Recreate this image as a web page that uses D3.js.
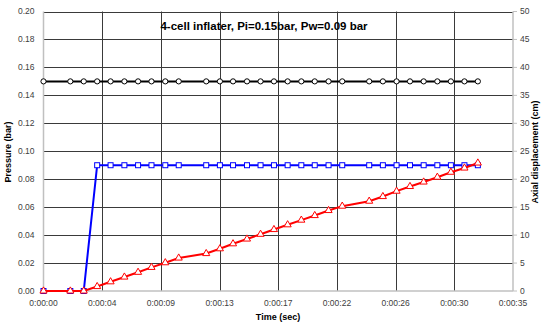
<!DOCTYPE html>
<html>
<head>
<meta charset="utf-8">
<script src="https://cdn.jsdelivr.net/npm/d3@7"></script>
<style>
  body { margin: 0; background: #fff; }
  text { font-family: "Liberation Sans", Arial, sans-serif; }
</style>
</head>
<body>
<div id="chart"></div>
<script>
// time (sec) of each sample
var times = [0, 2, 3, 4, 5, 6.03, 7.05, 8.05, 9.08, 10.08,
  12.13, 13.15, 14.13, 15.17, 16.18, 17.18, 18.2, 19.22, 20.22, 21.25, 22.27,
  24.28, 25.3, 26.32, 27.32, 28.34, 29.36, 30.37, 31.38, 32.38];
// Pi (bar)
var inflaterPressure = [0.15, 0.15, 0.15, 0.15, 0.15, 0.15, 0.15, 0.15, 0.15, 0.15,
  0.15, 0.15, 0.15, 0.15, 0.15, 0.15, 0.15, 0.15, 0.15, 0.15, 0.15,
  0.15, 0.15, 0.15, 0.15, 0.15, 0.15, 0.15, 0.15, 0.15];
// Pw (bar)
var wallPressure = [0, 0, 0, 0.09, 0.09, 0.09, 0.09, 0.09, 0.09, 0.09,
  0.09, 0.09, 0.09, 0.09, 0.09, 0.09, 0.09, 0.09, 0.09, 0.09, 0.09,
  0.09, 0.09, 0.09, 0.09, 0.09, 0.09, 0.09, 0.09, 0.09];
// axial displacement (cm)
var displacement = [0, 0, 0, 0.8, 1.65, 2.5, 3.35, 4.23, 5.06, 5.9,
  6.7, 7.56, 8.45, 9.3, 10.15, 11.0, 11.85, 12.68, 13.5, 14.4, 15.18,
  16.07, 16.9, 17.86, 18.7, 19.5, 20.36, 21.25, 22.0, 22.9];

var xTicks = [0, 4.375, 8.75, 13.125, 17.5, 21.875, 26.25, 30.625, 35];
var xTickLabels = ['0:00:00', '0:00:04', '0:00:09', '0:00:13', '0:00:17', '0:00:22', '0:00:26', '0:00:30', '0:00:35'];
var leftTicks = [0, 0.02, 0.04, 0.06, 0.08, 0.10, 0.12, 0.14, 0.16, 0.18, 0.20];
var rightTicks = [0, 5, 10, 15, 20, 25, 30, 35, 40, 45, 50];

var width = 543, height = 323;
var margin = {top: 11.5, right: 30, bottom: 32, left: 43.5};

var svg = d3.select('#chart').append('svg')
  .attr('width', width)
  .attr('height', height);

var x = d3.scaleLinear().domain([0, 35]).range([margin.left, width - margin.right]);
var y = d3.scaleLinear().domain([0, 0.2]).range([height - margin.bottom, margin.top]);
var y2 = d3.scaleLinear().domain([0, 50]).range([height - margin.bottom, margin.top]);

// grid
svg.append('g').selectAll('line')
  .data(leftTicks.slice(1))
  .enter().append('line')
  .attr('x1', x(0)).attr('x2', x(35))
  .attr('y1', function(d) { return Math.round(y(d)) + 0.5; })
  .attr('y2', function(d) { return Math.round(y(d)) + 0.5; })
  .style('stroke', '#3a3a3a').style('stroke-width', 1);

svg.append('g').selectAll('line')
  .data(xTicks.slice(1, -1))
  .enter().append('line')
  .attr('y1', y(0)).attr('y2', y(0.2))
  .attr('x1', function(d) { return Math.round(x(d)) + 0.5; })
  .attr('x2', function(d) { return Math.round(x(d)) + 0.5; })
  .style('stroke', '#3a3a3a').style('stroke-width', 1);

// axes lines
svg.append('line')
  .attr('x1', x(0)).attr('x2', x(0)).attr('y1', y(0)).attr('y2', y(0.2))
  .style('stroke', '#c0c0c0').style('stroke-width', 1.5);
svg.append('line')
  .attr('x1', x(35)).attr('x2', x(35)).attr('y1', y(0)).attr('y2', y(0.2))
  .style('stroke', '#c0c0c0').style('stroke-width', 1.5);
svg.append('line')
  .attr('x1', x(0)).attr('x2', x(35)).attr('y1', y(0)).attr('y2', y(0))
  .style('stroke', '#c0c0c0').style('stroke-width', 1.5);

// right ticks
svg.append('g').selectAll('line')
  .data(rightTicks)
  .enter().append('line')
  .attr('x1', x(35)).attr('x2', x(35) + 4)
  .attr('y1', function(d) { return y2(d); })
  .attr('y2', function(d) { return y2(d); })
  .style('stroke', '#c0c0c0').style('stroke-width', 1);

// tick labels
var tickFont = 8.5, tickColor = '#404040';
svg.append('g').selectAll('text')
  .data(leftTicks)
  .enter().append('text')
  .attr('x', x(0) - 9)
  .attr('y', function(d) { return y(d); })
  .attr('dy', '0.35em')
  .attr('text-anchor', 'end')
  .style('font-size', tickFont + 'px').style('fill', tickColor)
  .text(function(d) { return d.toFixed(2); });

svg.append('g').selectAll('text')
  .data(rightTicks)
  .enter().append('text')
  .attr('x', x(35) + 7)
  .attr('y', function(d) { return y2(d); })
  .attr('dy', '0.35em')
  .style('font-size', tickFont + 'px').style('fill', tickColor)
  .text(function(d) { return d; });

svg.append('g').selectAll('text')
  .data(xTicks)
  .enter().append('text')
  .attr('x', function(d) { return x(d); })
  .attr('y', y(0) + 15)
  .attr('text-anchor', 'middle')
  .style('font-size', tickFont + 'px').style('fill', tickColor)
  .text(function(d, i) { return xTickLabels[i]; });

// titles
svg.append('text')
  .attr('x', 264).attr('y', 30)
  .attr('text-anchor', 'middle')
  .style('font-size', '11.5px').style('font-weight', 'bold')
  .text('4-cell inflater, Pi=0.15bar, Pw=0.09 bar');

svg.append('text')
  .attr('x', 278).attr('y', 320)
  .attr('text-anchor', 'middle')
  .style('font-size', '9px').style('font-weight', 'bold')
  .text('Time (sec)');

svg.append('text')
  .attr('transform', 'translate(11,' + 152 + ') rotate(-90)')
  .attr('text-anchor', 'middle')
  .style('font-size', '9px').style('font-weight', 'bold')
  .text('Pressure (bar)');

svg.append('text')
  .attr('transform', 'translate(538,' + 152 + ') rotate(-90)')
  .attr('text-anchor', 'middle')
  .style('font-size', '9px').style('font-weight', 'bold')
  .text('Axial displacement (cm)');

// series
function drawSeries(values, scale, color, marker) {
  var pts = times.map(function(t, i) { return [x(t), scale(values[i])]; });
  svg.append('path')
    .datum(pts)
    .attr('d', d3.line())
    .style('fill', 'none').style('stroke', color).style('stroke-width', 2);
  var g = svg.append('g');
  pts.forEach(function(p) {
    if (marker === 'circle') {
      g.append('circle').attr('cx', p[0]).attr('cy', p[1]).attr('r', 2.6)
        .style('fill', '#fff').style('stroke', color).style('stroke-width', 1);
    } else if (marker === 'square') {
      g.append('rect').attr('x', p[0] - 2.5).attr('y', p[1] - 2.5)
        .attr('width', 5).attr('height', 5)
        .style('fill', '#fff').style('stroke', color).style('stroke-width', 1);
    } else {
      g.append('path')
        .attr('d', d3.symbol(d3.symbolTriangle, 22)())
        .attr('transform', 'translate(' + p[0] + ',' + p[1] + ')')
        .style('fill', '#fff').style('stroke', color).style('stroke-width', 1);
    }
  });
}

drawSeries(inflaterPressure, y, '#000000', 'circle');
drawSeries(wallPressure, y, '#0000ff', 'square');
drawSeries(displacement, y2, '#ff0000', 'triangle');
</script>
</body>
</html>
